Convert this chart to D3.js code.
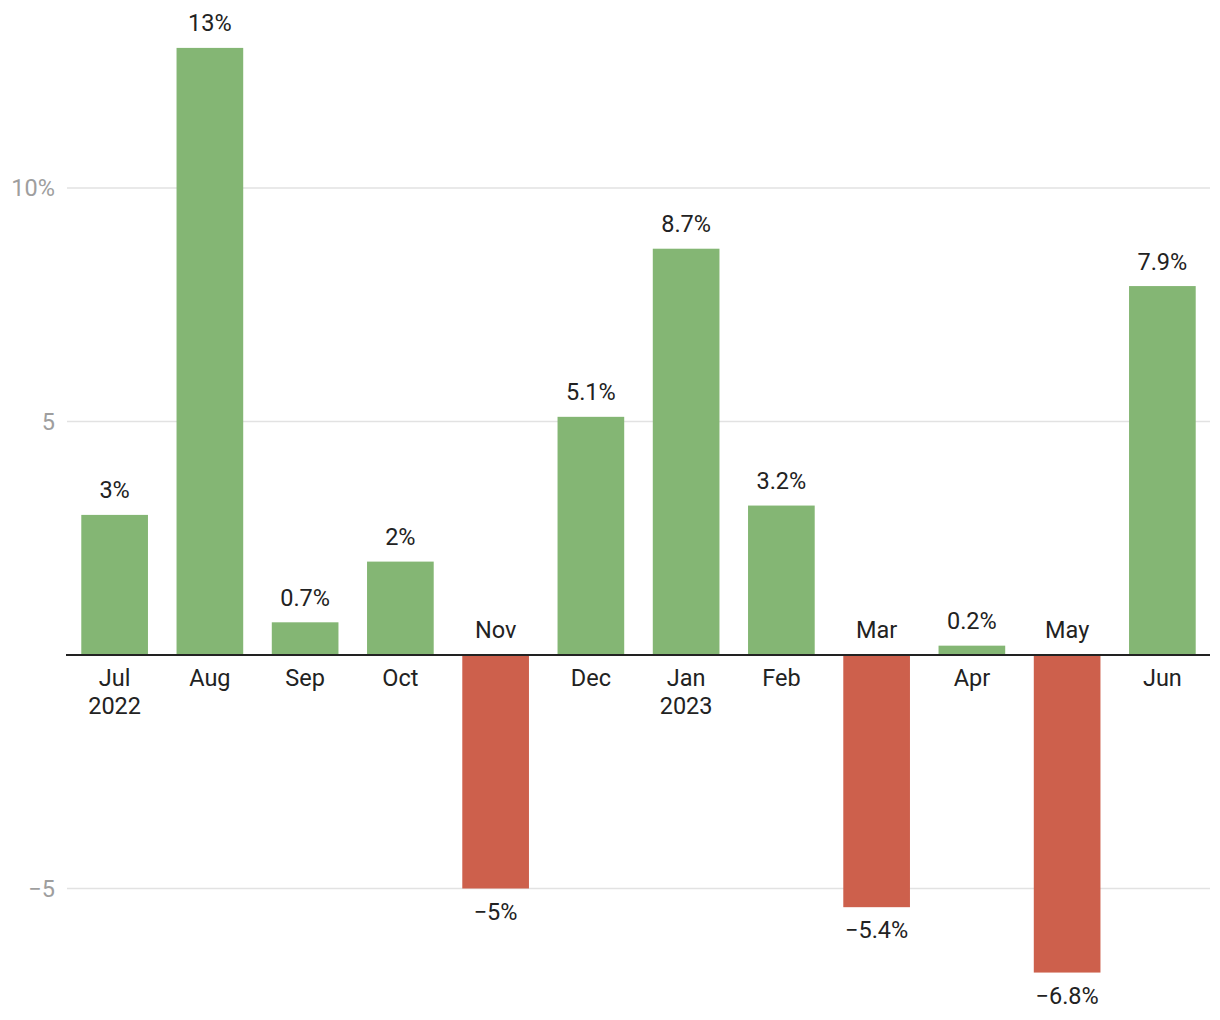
<!DOCTYPE html>
<html><head><meta charset="utf-8">
<script src="https://cdn.jsdelivr.net/npm/d3@7"></script>
<style>body{margin:0;background:#fff;} text{font-family:Roboto,sans-serif;}</style>
</head><body>
<svg id="chart" width="1220" height="1020"></svg>
<script>
const months = ["Jul","Aug","Sep","Oct","Nov","Dec","Jan","Feb","Mar","Apr","May","Jun"];
const years = ["2022","","","","","","2023","","","","",""];
const values = [3, 13, 0.7, 2, -5, 5.1, 8.7, 3.2, -5.4, 0.2, -6.8, 7.9];
const yTicks = [-5, 5, 10];
const yTickLabels = ["\u22125", "5", "10%"];

const svg = d3.select("#chart");
const left = 67, right = 1210;
const FS = 23.5;
const x = d3.scaleBand().domain(months.map((m,i)=>i)).range([left, right]).paddingInner(0.3).paddingOuter(0.15);
const y = d3.scaleLinear().domain([0, 10]).range([655, 188]);

const fmt = v => (v < 0 ? "\u2212" : "") + Math.abs(v) + "%";

// gridlines
svg.append("g").selectAll("line").data(yTicks).join("line")
  .attr("x1", left).attr("x2", right)
  .attr("y1", d => y(d)).attr("y2", d => y(d))
  .attr("stroke", "#e2e2e2").attr("stroke-width", 1.5);
svg.append("g").selectAll("text").data(yTicks).join("text")
  .attr("x", 55).attr("y", d => y(d)).attr("dy", "0.35em")
  .attr("text-anchor", "end").attr("fill", "#9e9e9e").attr("font-size", FS)
  .text((d,i) => yTickLabels[i]);

// bars
svg.append("g").selectAll("rect").data(values).join("rect")
  .attr("x", (d,i) => x(i)).attr("width", x.bandwidth())
  .attr("y", d => y(Math.max(0,d))).attr("height", d => Math.abs(y(d)-y(0)))
  .attr("fill", d => d >= 0 ? "#84b674" : "#cd604c");

// zero line
svg.append("line").attr("x1", left-1).attr("x2", right)
  .attr("y1", y(0)).attr("y2", y(0)).attr("stroke", "#222").attr("stroke-width", 2);

// value labels
svg.append("g").selectAll("text").data(values).join("text")
  .attr("x", (d,i) => x(i) + x.bandwidth()/2)
  .attr("y", d => d >= 0 ? y(d) - 16.5 : y(d) + 31)
  .attr("text-anchor", "middle").attr("fill", "#222").attr("font-size", FS)
  .text(d => fmt(d));

// category labels
const cat = svg.append("g").selectAll("text").data(values).join("text")
  .attr("x", (d,i) => x(i) + x.bandwidth()/2)
  .attr("y", d => d >= 0 ? y(0) + 30.5 : y(0) - 17.5)
  .attr("text-anchor", "middle").attr("fill", "#222").attr("font-size", FS);
cat.append("tspan").text((d,i) => months[i]);
cat.each(function(d,i){
  if (years[i] !== "") {
    d3.select(this).append("tspan")
      .attr("x", x(i) + x.bandwidth()/2).attr("dy", 28).text(years[i]);
  }
});
</script>
</body></html>
